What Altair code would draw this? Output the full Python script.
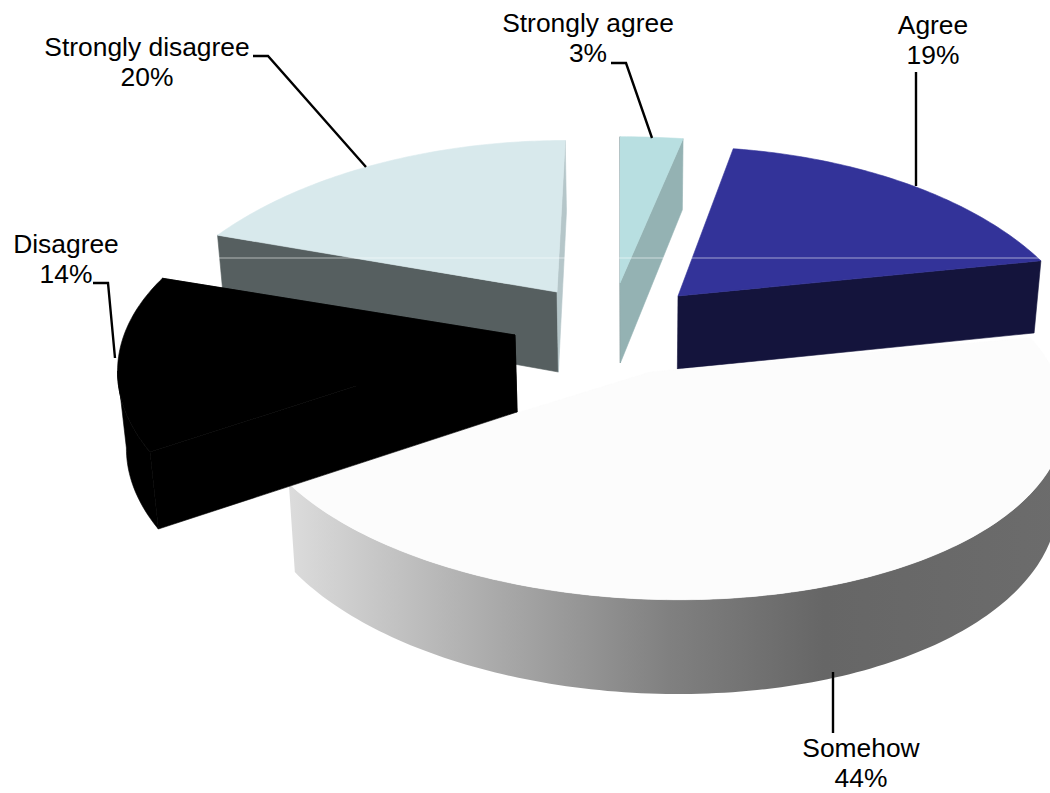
import math
import altair as alt
import pandas as pd

# Survey answers, clockwise from twelve o'clock
categories = ["Strongly agree", "Agree", "Somehow", "Disagree", "Strongly disagree"]
shares = [3, 19, 44, 14, 20]

# Colours of the top face, the two radial walls and the outer rim of each slice
top_colors = ["#b8dfe1", "#333399", "#fcfcfc", "#000000", "#d8e9ec"]
start_wall_colors = ["#5f6c6e", None, None, "#000000", "#565f60"]
end_wall_colors = ["#94b2b3", "#14143c", None, "#000000", "#b5c6c9"]
rim_colors = [None, None, "rim", "#000000", None]

# Perspective set-up of each exploded slice
slice_views = {
    "Strongly agree": dict(ax=620, ay=283, s=449, t=196, p=0.34, c=0, h=80, hp=0.127),
    "Agree": dict(ax=678, ay=296, s=393, t=200, p=0.34, c=0, h=73, hp=0.06),
    "Somehow": dict(ax=650, ay=372, s=404, t=189, p=0.17, c=-24, h=83, hp=0.12),
    "Disagree": dict(ax=515, ay=335, s=391, t=195, p=0.2, c=-8, h=77, hp=0.0),
    "Strongly disagree": dict(ax=557, ay=292, s=398, t=203, p=0.34, c=11, h=80, hp=0.127),
}
VANISH_X = 640
BASE_SHRINK = 0.983
DRAW_ORDER = ["Strongly disagree", "Strongly agree", "Agree", "Somehow", "Disagree"]

# Centre of each label's first line, and the leader lines
label_spots = {
    "Strongly agree": (588, 24),
    "Agree": (933, 26),
    "Somehow": (861, 749),
    "Disagree": (66, 245),
    "Strongly disagree": (147, 48),
}
leader_paths = {
    "Strongly agree": [(611, 63), (626, 63), (652, 138)],
    "Agree": [(916, 72), (916, 186)],
    "Somehow": [(833, 672), (833, 733)],
    "Disagree": [(93, 283), (108, 283), (115, 358)],
    "Strongly disagree": [(253, 56), (268, 56), (366, 167)],
}
glint_span = (217, 1040, 258)

x_scale = alt.Scale(domain=[0, 1050], range=[0, 1050], nice=False, zero=False)
y_scale = alt.Scale(domain=[793, 0], nice=False, zero=False)


def top_point(view, theta):
    cx, cy = math.sin(theta), math.cos(theta)
    w = 1 + view["p"] * cy
    return (view["ax"] + (view["s"] * cx + view["c"] * cy) / w, view["ay"] - view["t"] * cy / w)


def base_point(view, theta):
    x, y = top_point(view, theta)
    drop = view["h"] / (1 + view["hp"] * math.cos(theta))
    return (VANISH_X + (x - VANISH_X) * BASE_SHRINK, y + drop)


def apex(view):
    return (view["ax"], view["ay"])


def apex_base(view):
    return (VANISH_X + (view["ax"] - VANISH_X) * BASE_SHRINK, view["ay"] + view["h"])


def front_of_arc(view, thetas):
    # Keep only the stretch of the arc that faces the viewer: cut at a sideways extreme of x
    xs = [top_point(view, t)[0] for t in thetas]
    for k in range(1, len(xs) - 1):
        if (xs[k] - xs[k - 1]) * (xs[k + 1] - xs[k]) <= 0:
            if math.cos(thetas[0]) < math.cos(thetas[-1]):
                return thetas[: k + 1]
            return thetas[k:]
    return thetas


def polygon_layer(points, fill):
    closed = list(points) + [points[0]]
    frame = pd.DataFrame({"px": [p[0] for p in closed], "py": [p[1] for p in closed], "step": range(len(closed))})
    stroke = fill if isinstance(fill, str) else "transparent"
    return (
        alt.Chart(frame)
        .mark_line(fill=fill, stroke=stroke, strokeWidth=0.6, clip=True)
        .encode(
            x=alt.X("px:Q", scale=x_scale, axis=None),
            y=alt.Y("py:Q", scale=y_scale, axis=None),
            order="step:Q",
        )
    )


rim_gradient = alt.LinearGradient(
    gradient="linear",
    x1=0, x2=1, y1=0, y2=0,
    stops=[
        alt.GradientStop(color="#dcdcdc", offset=0),
        alt.GradientStop(color="#808080", offset=0.49),
        alt.GradientStop(color="#666666", offset=0.69),
        alt.GradientStop(color="#6c6c6c", offset=1),
    ],
)

# Cumulative angles come straight from the shares
total = sum(shares)
angles = {}
running = 0
for name, share in zip(categories, shares):
    angles[name] = (2 * math.pi * running / total, 2 * math.pi * (running + share) / total)
    running += share

layers = []
for name in DRAW_ORDER:
    i = categories.index(name)
    view = slice_views[name]
    start, end = angles[name]
    steps = max(4, int((end - start) / math.radians(1)))
    thetas = [start + (end - start) * k / steps for k in range(steps + 1)]

    if rim_colors[i]:
        front = front_of_arc(view, thetas)
        rim_pts = [top_point(view, t) for t in front] + [base_point(view, t) for t in reversed(front)]
        layers.append(polygon_layer(rim_pts, rim_gradient if rim_colors[i] == "rim" else rim_colors[i]))
    if start_wall_colors[i]:
        layers.append(polygon_layer(
            [apex(view), top_point(view, start), base_point(view, start), apex_base(view)], start_wall_colors[i]))
    if end_wall_colors[i]:
        layers.append(polygon_layer(
            [apex(view), top_point(view, end), base_point(view, end), apex_base(view)], end_wall_colors[i]))
    layers.append(polygon_layer([apex(view)] + [top_point(view, t) for t in thetas], top_colors[i]))

# Faint light line across the slices
glint = pd.DataFrame({"x0": [glint_span[0]], "x1": [glint_span[1]], "y0": [glint_span[2]]})
layers.append(
    alt.Chart(glint)
    .mark_rule(color="#ffffff", opacity=0.55, strokeWidth=1)
    .encode(
        x=alt.X("x0:Q", scale=x_scale, axis=None),
        x2="x1:Q",
        y=alt.Y("y0:Q", scale=y_scale, axis=None),
    )
)

# Leader lines
rows = []
for name, path in leader_paths.items():
    for k, (lx, ly) in enumerate(path):
        rows.append({"who": name, "lx": lx, "ly": ly, "step": k})
layers.append(
    alt.Chart(pd.DataFrame(rows))
    .mark_line(color="#000000", strokeWidth=2.4, strokeJoin="miter")
    .encode(
        x=alt.X("lx:Q", scale=x_scale, axis=None),
        y=alt.Y("ly:Q", scale=y_scale, axis=None),
        detail="who:N",
        order="step:Q",
    )
)

# Category and percentage labels
label_frame = pd.DataFrame({
    "text": [f"{n}\n{v}%" for n, v in zip(categories, shares)],
    "tx": [label_spots[n][0] for n in categories],
    "ty": [label_spots[n][1] for n in categories],
})
layers.append(
    alt.Chart(label_frame)
    .mark_text(font="Liberation Sans", fontSize=26.4, color="#000000", lineBreak="\n", lineHeight=30,
               align="center", baseline="middle")
    .encode(
        x=alt.X("tx:Q", scale=x_scale, axis=None),
        y=alt.Y("ty:Q", scale=y_scale, axis=None),
        text="text:N",
    )
)

chart = (
    alt.layer(*layers)
    .properties(width=1050, height=793, padding=0, autosize=alt.AutoSizeParams(type="none"), background="#ffffff")
    .configure_view(stroke=None)
)
chart.save("out.html", embed_options={"renderer": "svg", "actions": False})
